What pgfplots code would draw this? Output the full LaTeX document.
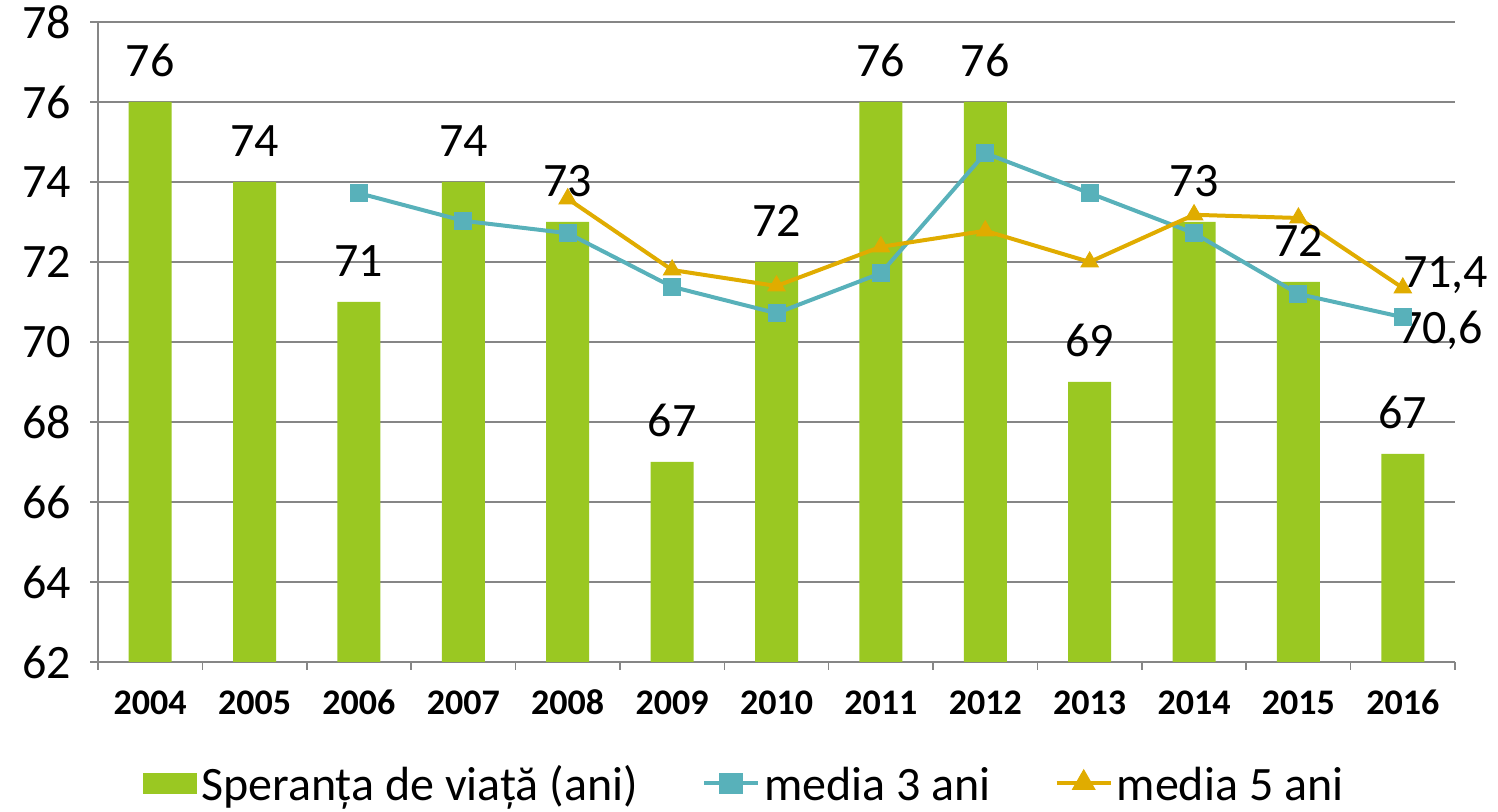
\documentclass[border=0pt]{standalone}
\usepackage{fontspec}
\setmainfont{Carlito}
\usepackage{pgfplots}
\pgfplotsset{compat=1.18}
\definecolor{cgreen}{RGB}{154,200,34}
\definecolor{cteal}{RGB}{88,177,186}
\definecolor{cgold}{RGB}{224,172,0}
\definecolor{cgrid}{RGB}{134,134,134}
\newcommand{\bigf}{\fontsize{24}{28}\selectfont}
\begin{document}
\begin{tikzpicture}
\begin{axis}[name=ax, scale only axis, width=678.5pt, height=320pt,
  xmin=-0.5, xmax=12.5, ymin=62, ymax=78,
  ytick={62,64,...,78},
  xtick={-0.5,0.5,...,12.5}, xticklabels={},
  extra x ticks={0,1,2,3,4,5,6,7,8,9,10,11,12},
  extra x tick labels={2004,2005,2006,2007,2008,2009,2010,2011,2012,2013,2014,2015,2016},
  extra x tick style={major tick length=0pt, grid=none,
     xticklabel style={font=\fontsize{18}{20}\selectfont\bfseries, anchor=base, yshift=-26.5pt}},
  axis x line*=bottom, axis y line*=left,
  axis line style={cgrid, line width=0.75pt},
  tick style={cgrid, line width=0.75pt},
  tick align=outside, major tick length=4pt,
  ymajorgrids, grid style={cgrid, line width=0.75pt},
  /pgf/number format/assume math mode=true,
  yticklabel style={font=\bigf, xshift=-6pt},
  legend style={draw=none, fill=none, font=\bigf, at={(0.477,-0.192)}, anchor=center,
     legend columns=-1, /tikz/every even column/.append style={column sep=30pt},
     inner sep=0pt, cells={anchor=west}},
  clip=false,
]
\addplot[ybar, bar width=21.5pt, fill=cgreen, draw=none, bar shift=0pt,
  nodes near coords, point meta=explicit symbolic,
  every node near coord/.append style={font=\bigf, text=black, anchor=south, yshift=9pt},
  legend image code/.code={\fill[cgreen] (0pt,-4.5pt) rectangle (27pt,6pt);}]
  table[meta=lab] {
x y lab
0 76 76
1 74 74
2 71 71
3 74 74
4 73 73
5 67 67
6 72 72
7 76 76
8 76 76
9 69 69
10 73 73
11 71.5 72
12 67.2 67
};
\addlegendentry{Speranța de viață (ani)}
\addplot[cteal, line width=2pt, mark=square*, mark size=4.25pt, mark options={line width=0.5pt},
  legend image code/.code={\draw[cteal,line width=2pt] (0pt,0.75pt) -- (27pt,0.75pt); \fill[cteal] (8.5pt,-3.5pt) rectangle (18.5pt,5pt);}]
  coordinates {(2,73.72) (3,73.03) (4,72.72) (5,71.38) (6,70.72) (7,71.72) (8,74.72) (9,73.72) (10,72.72) (11,71.2) (12,70.62)};
\addlegendentry{media 3 ani}
\addplot[cgold, line width=2pt, mark=triangle*, mark size=5pt, mark options={line width=0.5pt},
  legend image code/.code={\draw[cgold,line width=2pt] (0pt,0.75pt) -- (27pt,0.75pt); \fill[cgold] (13.5pt,6pt) -- (9.2pt,-1.5pt) -- (17.8pt,-1.5pt) -- cycle;}]
  coordinates {(4,73.58) (5,71.8) (6,71.4) (7,72.38) (8,72.78) (9,72) (10,73.18) (11,73.1) (12,71.35)};
\addlegendentry{media 5 ani}
\node[anchor=base west, inner sep=0pt, font=\bigf, xshift=0pt] at (axis cs:12,71.35) {71,4};
\node[anchor=north west, inner sep=0pt, font=\bigf, xshift=-2.5pt, yshift=3.5pt] at (axis cs:12,70.62) {70,6};
\end{axis}
\pgfresetboundingbox
\path[use as bounding box] ([shift={(-49pt,-75pt)}]ax.south west) rectangle ([shift={(21.5pt,11pt)}]ax.north east);
\end{tikzpicture}
\end{document}
